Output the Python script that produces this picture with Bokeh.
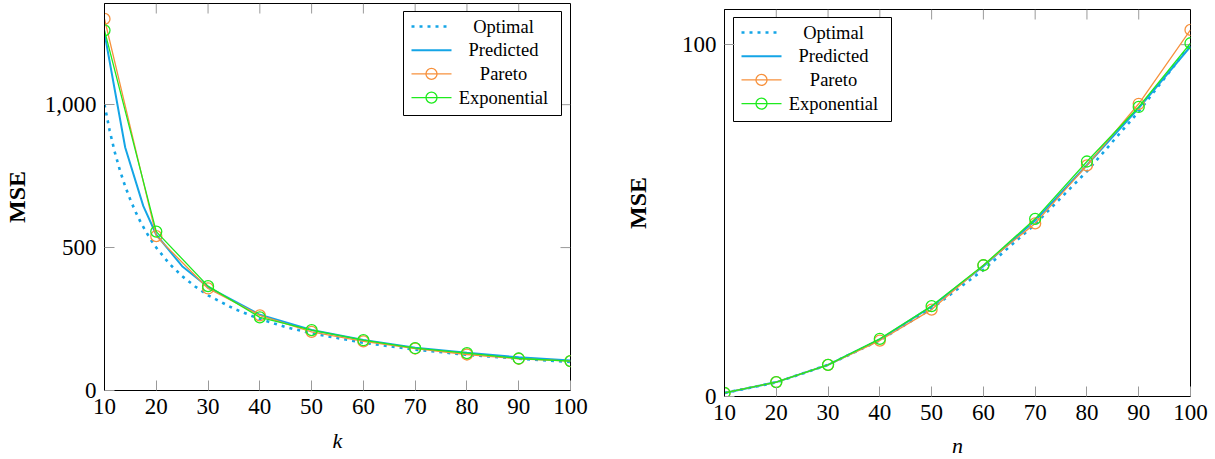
from jinja2 import Template
from bokeh.plotting import figure
from bokeh.models import Range1d, FixedTicker, NumeralTickFormatter
from bokeh.core.properties import value
from bokeh.embed import file_html
from bokeh.resources import INLINE

# ---------------- data ----------------
# left panel: MSE versus k
k_ticks = [10, 20, 30, 40, 50, 60, 70, 80, 90, 100]
k_optimal = [10, 11, 12, 13, 14, 15, 16, 17, 18, 19, 20, 22.5, 25, 27.5, 30, 35, 40, 45, 50, 60, 70, 80, 90, 100]
mse_k_optimal = [1000, 909, 833, 769, 714, 667, 625, 588, 556, 526, 500, 444, 400, 364, 333, 286, 250, 222, 200, 167, 143, 125, 111, 100]
k_predicted = [10, 14, 17.5, 20, 25, 30, 40, 50, 60, 70, 80, 90, 100]
mse_k_predicted = [1250, 850, 645, 545, 435, 362, 265, 212, 177, 150, 132, 116, 105]
k_points = [10, 20, 30, 40, 50, 60, 70, 80, 90, 100]
mse_k_pareto = [1300, 540, 357, 263, 205, 172, 147, 126, 111, 103]
mse_k_exponential = [1260, 556, 365, 256, 211, 176, 148, 131, 112, 103]
k_yticks = [0, 500, 1000]

# right panel: MSE versus n
n_points = [10, 20, 30, 40, 50, 60, 70, 80, 90, 100]
mse_n_optimal = [1.0, 4.0, 9.0, 16.0, 25.0, 36.0, 49.0, 64.0, 81.0, 100.0]
mse_n_predicted = [1.0, 4.1, 9.0, 16.2, 25.6, 37.0, 50.0, 65.8, 82.0, 99.5]
mse_n_pareto = [1.0, 4.1, 9.0, 15.9, 24.7, 37.3, 49.2, 65.7, 83.2, 104.2]
mse_n_exponential = [1.0, 4.1, 9.0, 16.4, 25.7, 37.3, 50.5, 66.8, 82.3, 100.4]
n_yticks = [0, 100]

legend_labels = ["Optimal", "Predicted", "Pareto", "Exponential"]

# ---------------- styles ----------------
BLUE = "#14A5E6"
ORANGE = "#F7913C"
GREEN = "#1EEB1E"
TICK = "#9a9a9a"
SERIF = "Liberation Serif"
FRAME_W = 466
FRAME_H = 387


def style_axes(p, yticks, yfmt, ylab_standoff, xlab_standoff, xr, yr):
    p.outline_line_color = "black"
    p.outline_line_width = 1
    p.xgrid.visible = False
    p.ygrid.visible = False
    for ax in (p.xaxis[0], p.yaxis[0]):
        ax.axis_line_color = "black"
        ax.major_tick_in = 10
        ax.major_tick_out = 0
        ax.minor_tick_in = 0
        ax.minor_tick_out = 0
        ax.major_tick_line_color = TICK
        ax.major_label_text_font = SERIF
        ax.major_label_text_font_size = "23px"
        ax.major_label_text_color = "black"
        ax.major_label_standoff = 8
    p.xaxis[0].ticker = FixedTicker(ticks=k_ticks)
    p.yaxis[0].ticker = FixedTicker(ticks=yticks)
    if yfmt is not None:
        p.yaxis[0].formatter = yfmt
    p.yaxis[0].axis_label_text_font = SERIF
    p.yaxis[0].axis_label_text_font_style = "bold"
    p.yaxis[0].axis_label_text_font_size = "24px"
    p.yaxis[0].axis_label_text_color = "black"
    p.yaxis[0].axis_label_standoff = ylab_standoff
    p.xaxis[0].axis_label_text_font = SERIF
    p.xaxis[0].axis_label_text_font_style = "italic"
    p.xaxis[0].axis_label_text_font_size = "22px"
    p.xaxis[0].axis_label_text_color = "black"
    p.xaxis[0].axis_label_standoff = xlab_standoff
    # mirrored inward ticks on the top and right edges (10 px long)
    dy = 10 * (yr[1] - yr[0]) / FRAME_H
    dx = 10 * (xr[1] - xr[0]) / FRAME_W
    tx = [t for t in k_ticks if xr[0] < t < xr[1]]
    p.segment(x0=tx, x1=tx, y0=[yr[1]] * len(tx), y1=[yr[1] - dy] * len(tx),
              line_color=TICK, line_width=1)
    ty = [t for t in yticks if yr[0] < t < yr[1]]
    p.segment(x0=[xr[1]] * len(ty), x1=[xr[1] - dx] * len(ty), y0=ty, y1=ty,
              line_color=TICK, line_width=1)


def add_legend(p, xr, yr, left_px, top_px):
    def X(px):
        return xr[0] + px * (xr[1] - xr[0]) / FRAME_W

    def Y(py):
        return yr[1] - py * (yr[1] - yr[0]) / FRAME_H

    p.quad(left=[X(left_px)], right=[X(left_px + 158)], top=[Y(top_px)], bottom=[Y(top_px + 104)],
           fill_color="white", line_color="black", line_width=1)
    styles = [(BLUE, "3 5", 2.6, False), (BLUE, "solid", 2.0, False),
              (ORANGE, "solid", 1.3, True), (GREEN, "solid", 1.3, True)]
    for i, (lab, (col, dash, w, mk)) in enumerate(zip(legend_labels, styles)):
        cy = Y(top_px + 15 + i * 23.7)
        p.line([X(left_px + 8), X(left_px + 48)], [cy, cy], line_color=col, line_dash=dash, line_width=w)
        if mk:
            p.scatter([X(left_px + 28)], [cy], marker="circle", size=11, fill_color=None,
                      line_color=col, line_width=1.3)
        p.text(x=[X(left_px + 100)], y=[cy], text=[lab], text_align="center", text_baseline="middle",
               text_font=value(SERIF), text_font_size="18.5px", text_color="black")


# ---------------- left figure ----------------
kx = (10, 100)
ky = (0, 1354)
p1 = figure(frame_width=FRAME_W, frame_height=FRAME_H, x_range=Range1d(*kx), y_range=Range1d(*ky),
            output_backend="svg", toolbar_location=None, title=None,
            min_border_left=102, min_border_right=42, min_border_top=3, min_border_bottom=69,
            x_axis_label="k", y_axis_label="MSE")
style_axes(p1, k_yticks, NumeralTickFormatter(format="0,0"), 12, 11, kx, ky)
p1.line(k_optimal, mse_k_optimal, line_color=BLUE, line_dash="3 5", line_width=2.6)
p1.line(k_predicted, mse_k_predicted, line_color=BLUE, line_width=2.0)
p1.line(k_points, mse_k_pareto, line_color=ORANGE, line_width=1.3)
p1.scatter(k_points, mse_k_pareto, marker="circle", size=11, fill_color=None, line_color=ORANGE, line_width=1.3)
p1.line(k_points, mse_k_exponential, line_color=GREEN, line_width=1.3)
p1.scatter(k_points, mse_k_exponential, marker="circle", size=11, fill_color=None, line_color=GREEN, line_width=1.3)
add_legend(p1, kx, ky, 299, 8)

# ---------------- right figure ----------------
nx = (10, 100)
ny = (0, 110)
p2 = figure(frame_width=FRAME_W, frame_height=FRAME_H, x_range=Range1d(*nx), y_range=Range1d(*ny),
            output_backend="svg", toolbar_location=None, title=None,
            min_border_left=112, min_border_right=22, min_border_top=9, min_border_bottom=63,
            x_axis_label="n", y_axis_label="MSE")
style_axes(p2, n_yticks, None, 28, 10, nx, ny)
p2.line(n_points, mse_n_optimal, line_color=BLUE, line_dash="3 5", line_width=2.6)
p2.line(n_points, mse_n_predicted, line_color=BLUE, line_width=2.0)
p2.line(n_points, mse_n_pareto, line_color=ORANGE, line_width=1.3)
p2.scatter(n_points, mse_n_pareto, marker="circle", size=11, fill_color=None, line_color=ORANGE, line_width=1.3)
p2.line(n_points, mse_n_exponential, line_color=GREEN, line_width=1.3)
p2.scatter(n_points, mse_n_exponential, marker="circle", size=11, fill_color=None, line_color=GREEN, line_width=1.3)
add_legend(p2, nx, ny, 9, 8)

# two independent roots placed side by side, so that their frames are not aligned
page = Template("""<!DOCTYPE html>
<html lang="en">
<head>
<meta charset="utf-8">
<title>{{ title }}</title>
{{ bokeh_css }}
{{ bokeh_js }}
</head>
<body style="margin:0;overflow:hidden">
<div style="display:flex;flex-direction:row;align-items:flex-start">
{{ plot_div }}
</div>
{{ plot_script }}
</body>
</html>
""")

open("out.html", "w").write(file_html([p1, p2], INLINE, title="MSE", template=page))
